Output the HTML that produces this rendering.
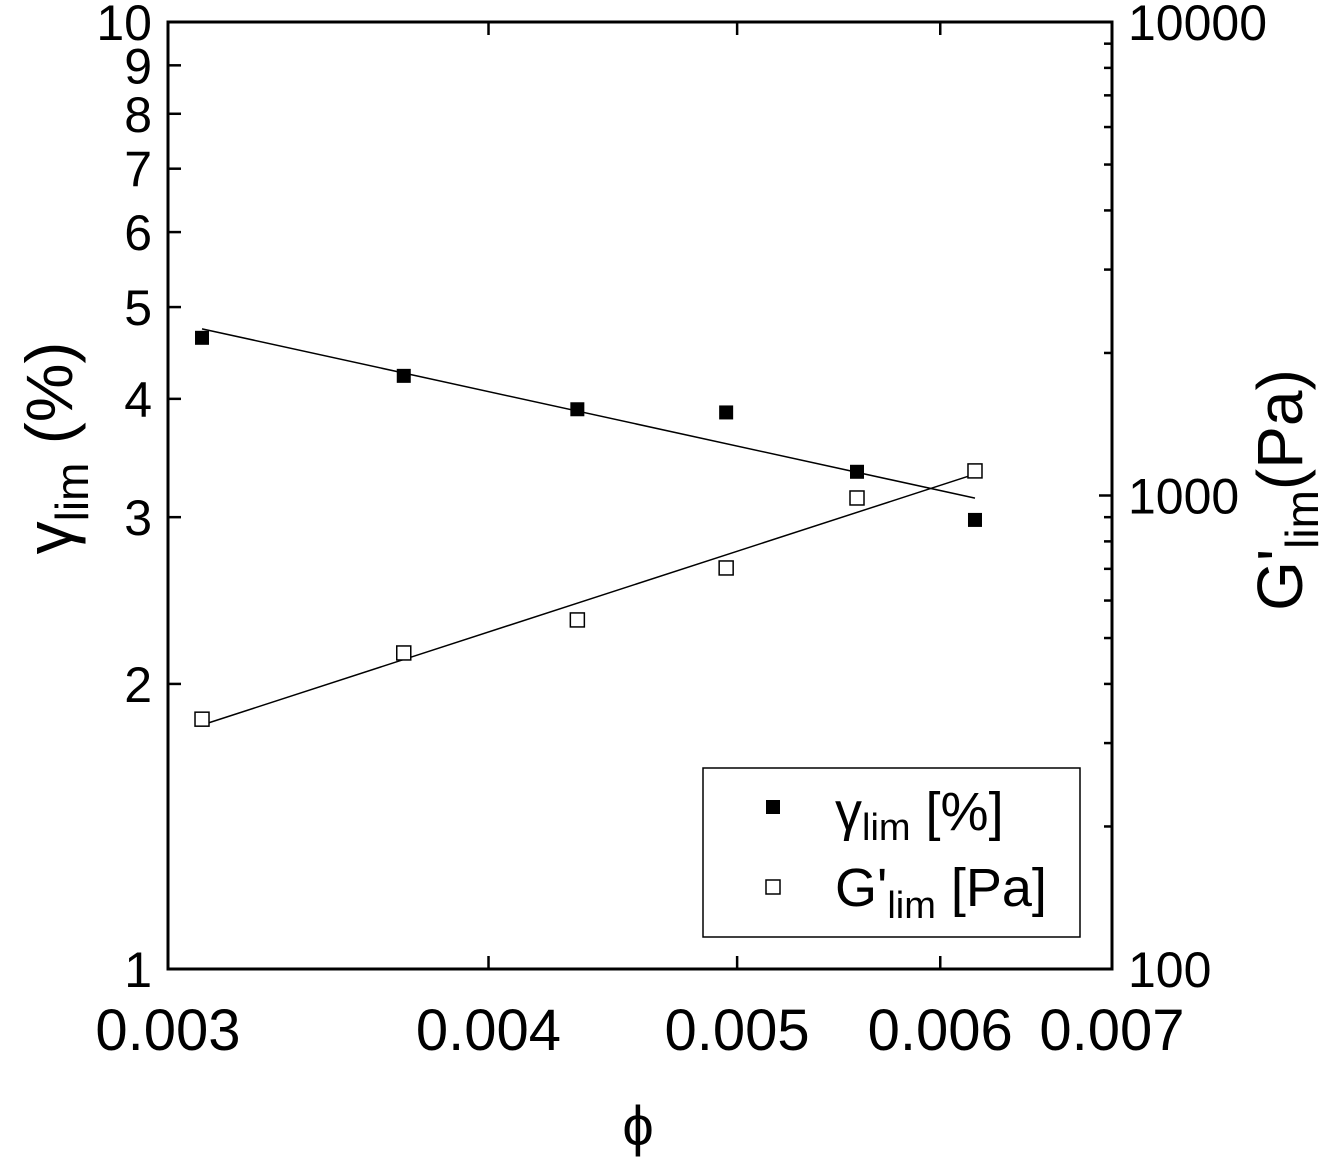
<!DOCTYPE html>
<html><head><meta charset="utf-8"><style>
body{margin:0;background:#fff}
svg{display:block;font-family:"Liberation Sans",sans-serif}
</style></head><body>
<svg id="chart" width="1319" height="1158" viewBox="0 0 1319 1158"></svg>
<script>
const phiVals=[0.003093,0.003707,0.004332,0.004951,0.005568,0.006190];
const gammaVals=[4.64,4.23,3.90,3.87,3.35,2.98];
const gVals=[337,465,546,703,988,1127];
const xTicks=[0.003,0.004,0.005,0.006,0.007];
const xTickLabels=["0.003","0.004","0.005","0.006","0.007"];
const yLeftTicks=[1,2,3,4,5,6,7,8,9,10];
const yRightMajor=[100,1000,10000];
const L=168,R=1112,T=22,B=969;
const xs=v=>L+(Math.log10(v/0.003))/Math.log10(7/3)*(R-L);
const yl=v=>B-Math.log10(v)*(B-T);
const yr=v=>B-(Math.log10(v)-2)/2*(B-T);
const svg=document.getElementById('chart');
const NS='http://www.w3.org/2000/svg';
function mk(tag,at,parent){const e=document.createElementNS(NS,tag);for(const k in at)e.setAttribute(k,at[k]);(parent||svg).appendChild(e);return e;}
let e;
e=mk('rect',{x:L,y:T,width:R-L,height:B-T,fill:'none',stroke:'#000','stroke-width':3});


xTicks.forEach((v,i)=>{
 const x=xs(v);
 e=mk('line',{x1:x,x2:x,y1:B,y2:B-13,stroke:'#000','stroke-width':2.5});
 
 
 e=mk('line',{x1:x,x2:x,y1:T,y2:T+13,stroke:'#000','stroke-width':2.5});
 
 
 e=mk('text',{x:x,y:1050,'font-size':58,'text-anchor':'middle'});e.textContent=xTickLabels[i];
 
 
});
yLeftTicks.forEach(v=>{
 const y=yl(v);
 e=mk('line',{x1:L,x2:L+13,y1:y,y2:y,stroke:'#000','stroke-width':2.5});
 
 
 e=mk('text',{x:152,y:y+18,'font-size':50,'text-anchor':'end'});e.textContent=String(v);
 
 
});
for(let d=100;d<10000;d*=10){for(let m=1;m<10;m++){const v=d*m;const y=yr(v);
 e=mk('line',{x1:R,x2:R-(m==1?13:8),y1:y,y2:y,stroke:'#000','stroke-width':2.5});
 
 }}
yRightMajor.forEach(v=>{
 e=mk('text',{x:1128,y:yr(v)+18,'font-size':50});e.textContent=String(v);
 
 
});
function fit(ys){const n=phiVals.length;let sx=0,sy=0,sxx=0,sxy=0;phiVals.forEach((p,i)=>{const a=Math.log10(p),b=Math.log10(ys[i]);sx+=a;sy+=b;sxx+=a*a;sxy+=a*b;});const m=(n*sxy-sx*sy)/(n*sxx-sx*sx);return [m,(sy-m*sx)/n];}
const p0=phiVals[0],p1=phiVals[phiVals.length-1];
let [m1,c1]=fit(gammaVals);
e=mk('line',{x1:xs(p0),x2:xs(p1),y1:yl(Math.pow(10,c1+m1*Math.log10(p0))),y2:yl(Math.pow(10,c1+m1*Math.log10(p1))),stroke:'#000','stroke-width':1.5});


let [m2,c2]=fit(gVals);
e=mk('line',{x1:xs(p0),x2:xs(p1),y1:yr(Math.pow(10,c2+m2*Math.log10(p0))),y2:yr(Math.pow(10,c2+m2*Math.log10(p1))),stroke:'#000','stroke-width':1.5});


phiVals.forEach((p,i)=>{
 e=mk('rect',{x:xs(p)-7,y:yl(gammaVals[i])-7,width:14,height:14,fill:'#000'});
 
 
 e=mk('rect',{x:xs(p)-7,y:yr(gVals[i])-7,width:14,height:14,fill:'#fff',stroke:'#000','stroke-width':1.5});
 
 
});
</script>
<svg style="position:absolute;left:0;top:0" width="1319" height="1158">
<g>
<rect x="703" y="768" width="377" height="169" fill="#fff" stroke="#000" stroke-width="1.5"/>
<rect x="766" y="800" width="14" height="14" fill="#000"/>
<text x="835" y="830" font-size="54">γ<tspan font-size="38" dy="10">lim</tspan><tspan dy="-10"> [%]</tspan></text>
<rect x="766" y="880" width="14" height="14" fill="#fff" stroke="#000" stroke-width="1.5"/>
<text x="835" y="906" font-size="54">G'<tspan font-size="38" dy="12">lim</tspan><tspan dy="-12"> [Pa]</tspan></text>
</g>
<text x="638" y="1145" font-size="56" text-anchor="middle">ϕ</text>
<text transform="translate(72,448) rotate(-90)" font-size="66" text-anchor="middle">γ<tspan font-size="46" dy="16">lim</tspan><tspan dy="-16">  (%)</tspan></text>
<text transform="translate(1302,490) rotate(-90)" font-size="64" text-anchor="middle">G'<tspan font-size="46" dy="16">lim</tspan><tspan dy="-16">(Pa)</tspan></text>
</svg>
</body></html>
